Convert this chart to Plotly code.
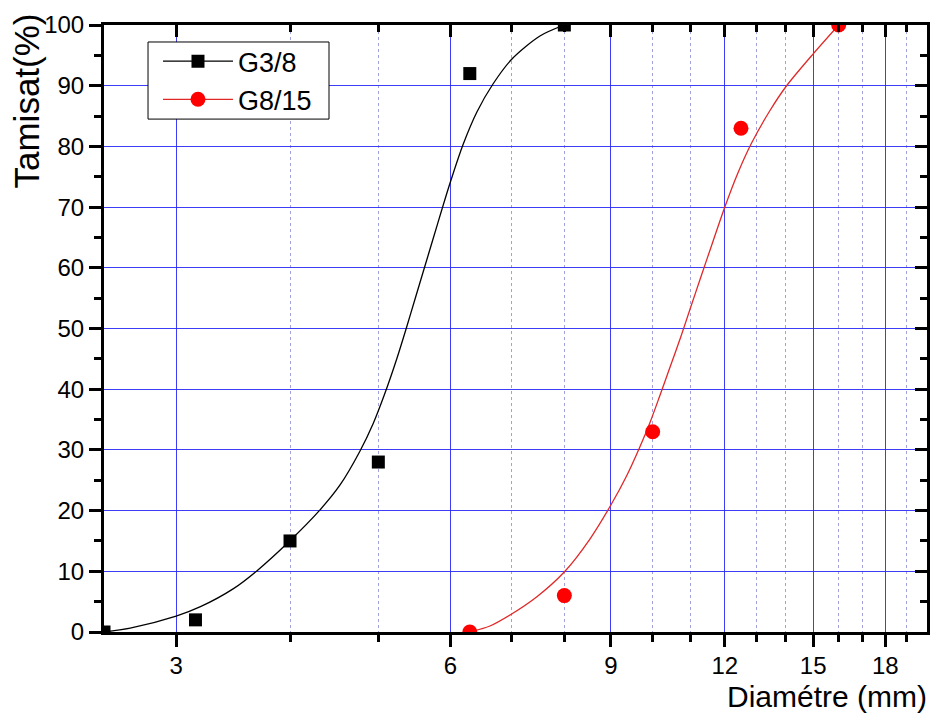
import numpy as np
import plotly.graph_objects as go

# ---- data ----
g38_x = [2.5, 3.15, 4.0, 5.0, 6.3, 8.0]
g38_y = [0, 2, 15, 28, 92, 100]
g815_x = [6.3, 8.0, 10.0, 12.5, 16.0]
g815_y = [0, 6, 33, 83, 100]

# fitted curves
fit38_x = [2.5, 2.671, 3.0, 3.19, 3.464, 3.678, 3.991, 4.315, 4.539, 4.774, 4.933, 5.085, 5.242,
           5.363, 5.486, 5.612, 5.741, 5.873, 6.008, 6.191, 6.414, 6.68, 7.008, 7.521, 8.0]
fit38_y = [0, 0.64, 2.62, 4.17, 7.10, 10.07, 14.91, 20.12, 24.22, 29.82, 34.27, 39.37, 45.14,
           49.92, 54.86, 59.80, 64.74, 69.69, 74.46, 80.23, 85.67, 90.28, 94.40, 98.19, 100]
fit815_x = [6.3, 6.629, 7.003, 7.458, 7.998, 8.534, 8.998, 9.362, 9.681, 9.928, 10.18, 10.44, 10.74,
            11.01, 11.29, 11.64, 12.0, 12.4, 12.84, 13.44, 14.02, 15.01, 16.0]
fit815_y = [0, 0.99, 2.97, 5.77, 9.88, 15.32, 20.92, 25.70, 30.48, 34.43, 38.88, 43.49, 48.68,
            53.54, 58.40, 64.25, 70.02, 75.59, 80.56, 85.83, 89.95, 95.29, 100]

x_major = [3, 6, 9, 12, 15, 18]
x_minor = [4, 5, 7, 8, 10, 11, 13, 14, 16, 17, 19]
x_range = [2.5, 20]
y_range = [0, 100]

FONT = "Liberation Sans, Arial, sans-serif"
GRID = "rgba(40,40,245,0.9)"
MINORGRID = "rgba(130,130,210,0.75)"

fig = go.Figure()

fig.add_trace(go.Scatter(x=fit38_x, y=fit38_y, mode="lines",
                         line=dict(color="black", width=1.3, shape="spline", smoothing=0.8),
                         showlegend=False, hoverinfo="skip"))
fig.add_trace(go.Scatter(x=fit815_x, y=fit815_y, mode="lines",
                         line=dict(color="#e02828", width=1.3, shape="spline", smoothing=0.8),
                         showlegend=False, hoverinfo="skip"))
fig.add_trace(go.Scatter(x=g38_x, y=g38_y, mode="markers", marker=dict(symbol="square", color="black", size=13),
                         showlegend=False))
fig.add_trace(go.Scatter(x=g815_x, y=g815_y, mode="markers", marker=dict(symbol="circle", color="red", size=15),
                         showlegend=False))
# legend entries
fig.add_trace(go.Scatter(x=[None], y=[None], mode="lines+markers", name="G3/8",
                         line=dict(color="black", width=1.3), marker=dict(symbol="square", color="black", size=13)))
fig.add_trace(go.Scatter(x=[None], y=[None], mode="lines+markers", name="G8/15",
                         line=dict(color="#e02828", width=1.3), marker=dict(symbol="circle", color="red", size=15)))
# anchor for mirrored axes (invisible)
fig.add_trace(go.Scatter(x=g38_x, y=g38_y, xaxis="x2", yaxis="y2", mode="markers",
                         marker=dict(opacity=0), showlegend=False, hoverinfo="skip"))

lx = [np.log10(x_range[0]), np.log10(x_range[1])]

fig.update_layout(
    width=936, height=720,
    margin=dict(l=104, r=9, t=25, b=88),
    paper_bgcolor="white", plot_bgcolor="white",
    font=dict(family=FONT, color="black"),
    xaxis=dict(type="log", range=lx, tickmode="array", tickvals=x_major, ticktext=[str(v) for v in x_major],
               tickfont=dict(size=24), showline=True, linewidth=3, linecolor="black",
               ticks="outside", ticklen=12, tickwidth=3, tickcolor="black", ticklabelstandoff=-2,
               showgrid=True, gridcolor=GRID, gridwidth=1.2, zeroline=False,
               minor=dict(tickmode="array", tickvals=x_minor, ticks="outside", ticklen=7, tickwidth=2.5,
                          tickcolor="black", showgrid=True, gridcolor=MINORGRID, griddash="dot", gridwidth=1)),
    yaxis=dict(range=y_range, tickmode="linear", tick0=0, dtick=10, tickfont=dict(size=24),
               showline=True, linewidth=3, linecolor="black",
               ticks="outside", ticklen=12, tickwidth=3, tickcolor="black",
               showgrid=True, gridcolor=GRID, gridwidth=1.2, zeroline=False,
               minor=dict(tick0=0, dtick=5, ticks="outside", ticklen=7, tickwidth=2.5, tickcolor="black",
                          showgrid=False)),
    xaxis2=dict(type="log", range=lx, overlaying="x", side="top", anchor="y", tickmode="array",
                tickvals=x_major, showticklabels=False, showline=True, linewidth=3, linecolor="black",
                ticks="inside", ticklen=12, tickwidth=3, tickcolor="black", showgrid=False, zeroline=False,
                minor=dict(tickmode="array", tickvals=x_minor, ticks="inside", ticklen=7, tickwidth=2.5,
                           tickcolor="black", showgrid=False)),
    yaxis2=dict(range=y_range, overlaying="y", side="right", anchor="x", tickmode="linear", tick0=0, dtick=10,
                showticklabels=False, showline=True, linewidth=3, linecolor="black",
                ticks="inside", ticklen=12, tickwidth=3, tickcolor="black", showgrid=False, zeroline=False,
                minor=dict(tick0=0, dtick=5, ticks="inside", ticklen=7, tickwidth=2.5, tickcolor="black",
                           showgrid=False)),
    legend=dict(x=0.0656, y=0.980, xanchor="left", yanchor="top", bgcolor="rgba(0,0,0,0)",
                borderwidth=0, font=dict(size=27, family=FONT), itemwidth=70, tracegroupgap=0),
    shapes=[
        dict(type="rect", xref="paper", yref="paper", x0=0.0535, x1=0.2734, y0=0.845, y1=0.972,
             line=dict(color="black", width=1), fillcolor="white", layer="above"),
    ],
    annotations=[
        dict(text="Tamisat(%)", xref="paper", yref="paper", x=-0.094, y=0.875, textangle=-90,
             showarrow=False, xanchor="center", yanchor="middle", font=dict(size=35, family=FONT)),
        dict(text="Diamétre (mm)", xref="paper", yref="paper", x=1.003, y=-0.107, showarrow=False,
             xanchor="right", yanchor="middle", font=dict(size=30, family=FONT)),
    ],
)

fig.write_html("out.html")
